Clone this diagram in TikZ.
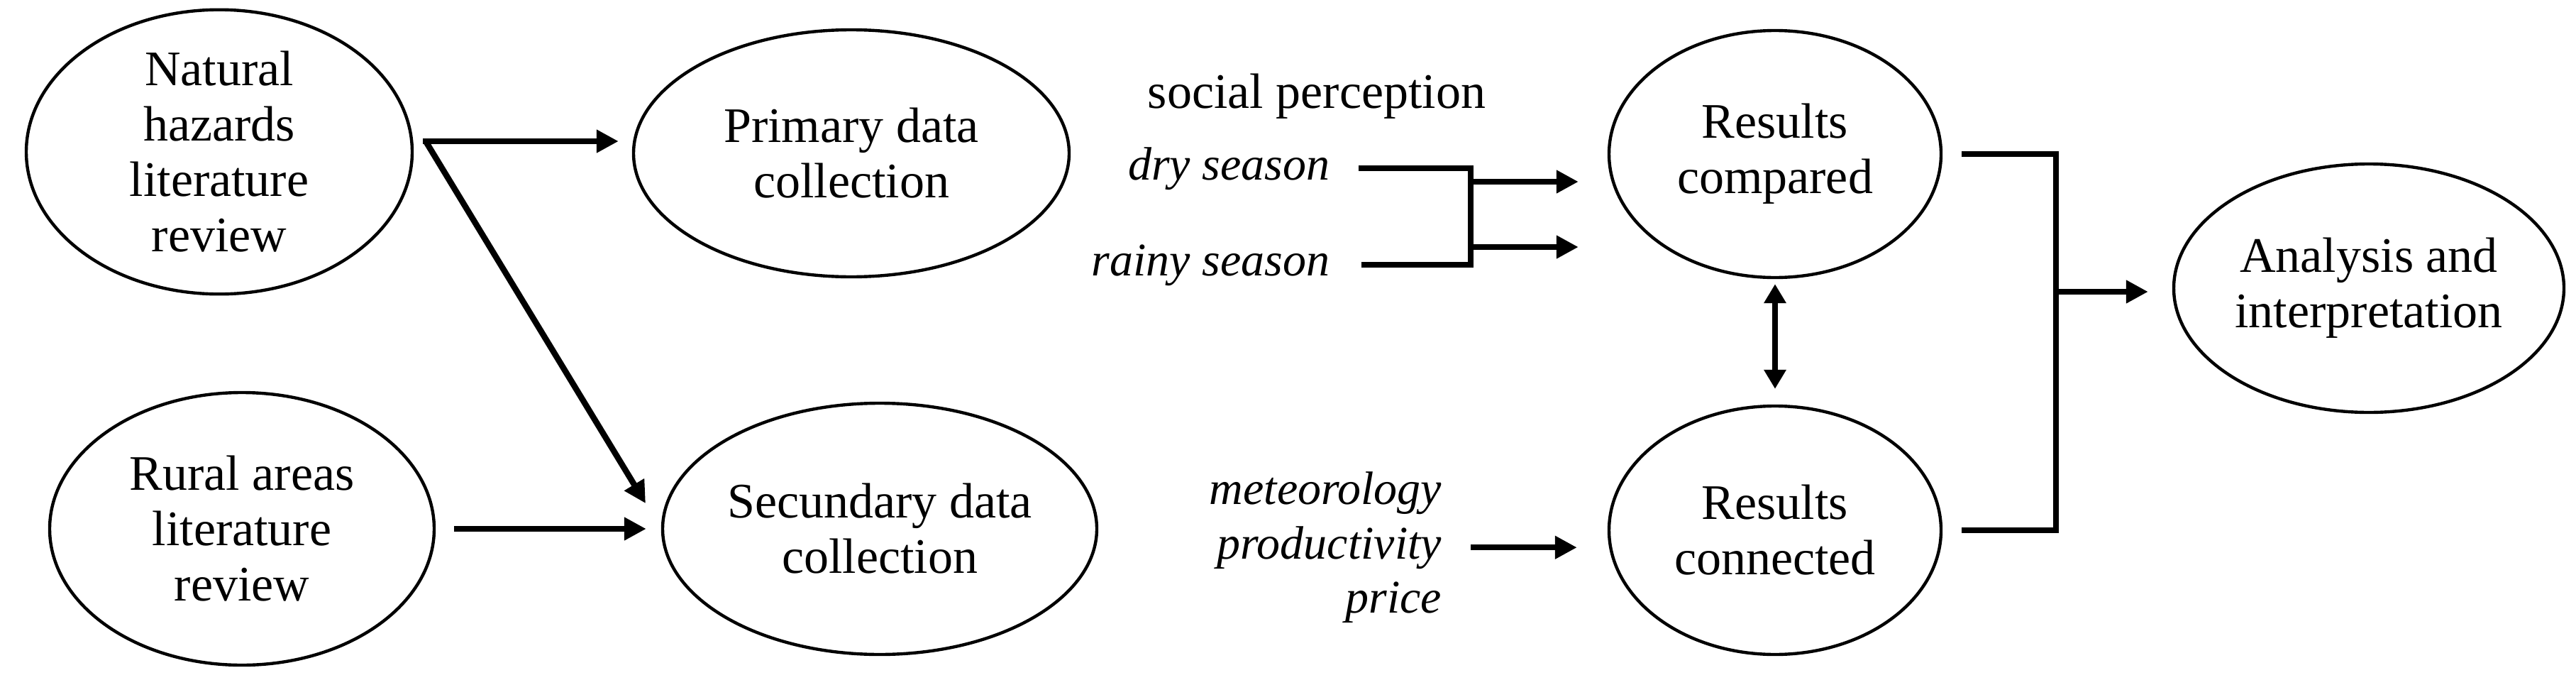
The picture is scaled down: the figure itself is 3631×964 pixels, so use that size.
\documentclass[tikz,border=0pt]{standalone}
\usepackage{fontspec}
\setmainfont{Liberation Serif}
\usetikzlibrary{arrows.meta,shapes.geometric,calc}
\begin{document}
\begin{tikzpicture}[x=0.25pt,y=-0.25pt,
  ell/.style={draw, ellipse, line width=1.1pt, inner sep=0pt, align=center, font=\fontsize{17.5}{19.5}\selectfont},
  lab/.style={inner sep=0pt, font=\fontsize{17.5}{19.5}\selectfont},
  ilab/.style={inner sep=0pt, font=\fontsize{16.5}{19.5}\selectfont\itshape},
  conn/.style={line width=2.1pt},
  arrw/.style={line width=2.1pt, -{Triangle[length=7.75pt,width=7.75pt]}},
  darrw/.style={line width=2pt, {Triangle[length=6.75pt,width=7.5pt]}-{Triangle[length=6.75pt,width=7.5pt]}}]
\useasboundingbox (0,0) rectangle (3631,964);

% ellipses
\node[ell, minimum width=136pt, minimum height=98pt] (nat) at (309,214) {Natural\\hazards\\literature\\review};
\node[ell, minimum width=135.5pt, minimum height=96pt] (rur) at (341,745) {Rural areas\\literature\\review};
\node[ell, minimum width=153.5pt, minimum height=87pt] (pri) at (1200,216) {Primary data\\collection};
\node[ell, minimum width=153pt, minimum height=88.5pt] (secd) at (1240,745) {Secundary data\\collection};
\node[ell, minimum width=117pt, minimum height=87pt] (rcmp) at (2502,217) {Results\\compared};
\node[ell, minimum width=117pt, minimum height=87.5pt] (rcon) at (2502,747) {Results\\connected};
\node[ell, minimum width=137.5pt, minimum height=87.5pt] (ana) at (3339,406) {Analysis and\\interpretation};

% labels
\node[lab, anchor=base] (soc) at (1856,152) {social perception};
\node[ilab, anchor=base east] (dry) at (1875,253) {dry season};
\node[ilab, anchor=base east] (rainy) at (1875,388) {rainy season};
\node[ilab, anchor=base east] (met) at (2033,710) {meteorology};
\node[ilab, anchor=base east] (prod) at (2033,787) {productivity};
\node[ilab, anchor=base east] (price) at (2033,863) {price};

% junctions
\coordinate (j1) at (600,199);
\coordinate (bx) at (2073,300);
\coordinate (a1) at (2073,256);
\coordinate (a2) at (2073,348);
\coordinate (bx2) at (2898,411);

% left connectors
\draw[arrw, shorten >=4.75pt] ([xshift=-1pt]j1) -- (j1 -| pri.west);
\draw[arrw, shorten >=10.5pt] (j1) -- (secd.west);
\draw[arrw] ([xshift=6.5pt]rur.east) -- ([xshift=-5.25pt]secd.west);

% season bracket
\draw[conn] ([xshift=10pt]dry.east) -| (bx) |- ([xshift=11pt]rainy.east);
\draw[arrw, shorten >=10.25pt] (a1) -- (a1 -| rcmp.west);
\draw[arrw, shorten >=10.25pt] (a2) -- (a2 -| rcmp.west);

% secondary data arrow
\draw[arrw, shorten >=10.75pt] ([xshift=10pt]prod.east) -- (prod.east -| rcon.west);

% results
\draw[darrw, shorten <=1.75pt, shorten >=5.5pt] (rcmp.south) -- (rcon.north);
\draw[conn] ([xshift=6.75pt]rcmp.east) -| (bx2) |- ([xshift=6.75pt]rcon.east);
\draw[arrw, shorten >=8.5pt] (bx2) -- (bx2 -| ana.west);
\end{tikzpicture}
\end{document}
